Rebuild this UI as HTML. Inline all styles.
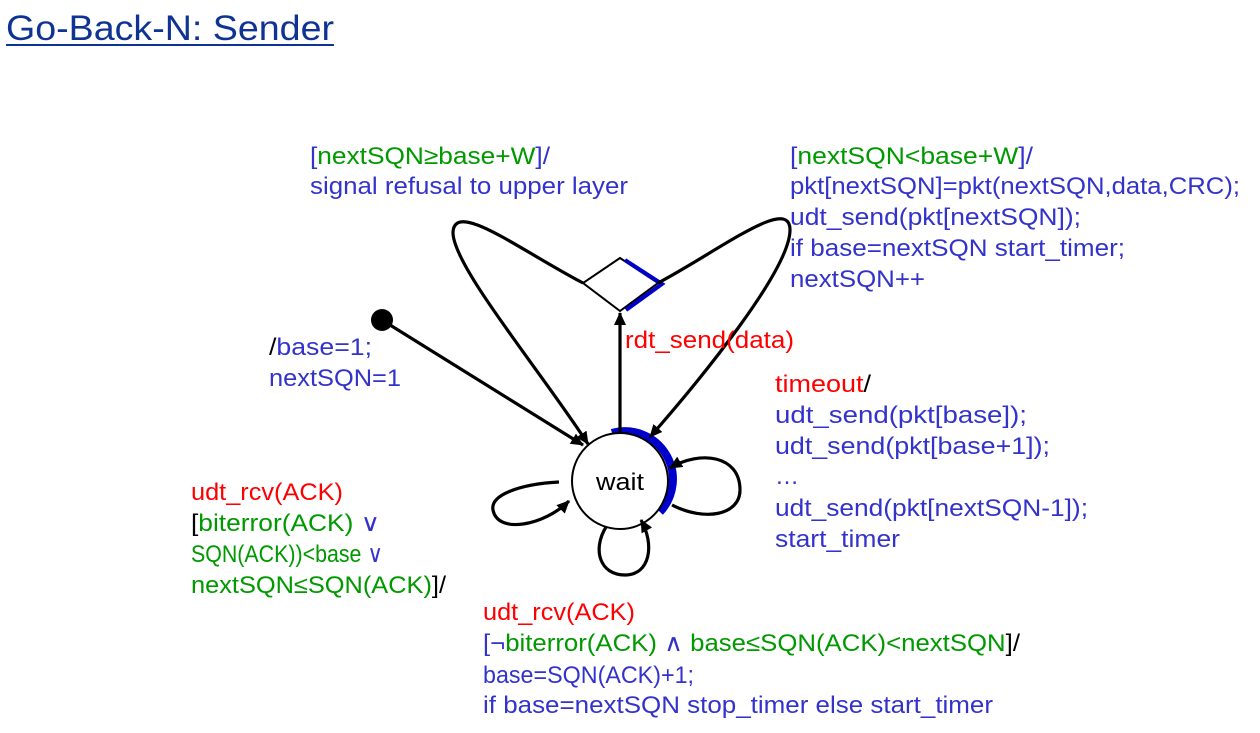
<!DOCTYPE html>
<html><head><meta charset="utf-8"><style>
html,body{margin:0;padding:0;background:#fff;width:1260px;height:733px;overflow:hidden}
svg{display:block}
text{font-family:"Liberation Sans",sans-serif;font-size:24px}
.b{fill:#3333cc}.g{fill:#009900}.r{fill:#ff0000}.k{fill:#000}
</style></head><body>
<svg width="1260" height="733" viewBox="0 0 1260 733">
<defs><marker id="a" markerWidth="14" markerHeight="14" refX="12" refY="6" orient="auto" markerUnits="userSpaceOnUse"><path d="M0,0 L13,6 L0,12 Z" fill="#000"/></marker></defs>
<text x="6" y="40" style="font-size:35px;fill:#0e3393" textLength="328" lengthAdjust="spacingAndGlyphs">Go-Back-N: Sender</text>
<rect x="6" y="44" width="328" height="2" fill="#0e3393"/>

<g fill="none" stroke="#000" stroke-width="3.2">
<path d="M620,258 L658,283 L620,311 L583,283 Z" fill="#fff" stroke-width="2"/>
<path d="M625,260 L662,284 L626,310" stroke="#0000cc" stroke-width="4"/>
<path d="M612,433 A48,48 0 0 1 660,512" stroke="#0000cc" stroke-width="8"/>
<circle cx="620" cy="481" r="48" fill="#fff" stroke-width="2"/>
<path d="M583,283 C520,250 455,200 453,232 C452,265 540,370 588,444" marker-end="url(#a)"/>
<path d="M658,283 C720,250 790,195 790,230 C790,270 700,380 650,437" marker-end="url(#a)"/>
<path d="M382,320 L583,445" marker-end="url(#a)"/>
<path d="M620,433 L620,313" marker-end="url(#a)"/>
<path d="M559,482 C520,484 490,495 493,510 C498,535 545,525 569,501" marker-end="url(#a)"/>
<path d="M672,505 C705,522 740,515 740,490 C740,455 700,450 670,468" marker-end="url(#a)"/>
<path d="M606,527 C592,550 600,575 625,575 C650,575 655,545 641,520" marker-end="url(#a)"/>
</g>
<circle cx="382" cy="320" r="11" fill="#000"/>
<text x="596" y="490" class="k" style="font-size:24px" textLength="48" lengthAdjust="spacingAndGlyphs">wait</text>

<text x="310" y="164" textLength="240" lengthAdjust="spacingAndGlyphs"><tspan class="b">[</tspan><tspan class="g">nextSQN≥base+W</tspan><tspan class="b">]/</tspan></text>
<text x="310" y="194" class="b" textLength="318" lengthAdjust="spacingAndGlyphs">signal refusal to upper layer</text>
<text x="790" y="164" textLength="243" lengthAdjust="spacingAndGlyphs"><tspan class="b">[</tspan><tspan class="g">nextSQN&lt;base+W</tspan><tspan class="b">]/</tspan></text>
<text x="790" y="194" class="b" textLength="450" lengthAdjust="spacingAndGlyphs">pkt[nextSQN]=pkt(nextSQN,data,CRC);</text>
<text x="790" y="225" class="b" textLength="291" lengthAdjust="spacingAndGlyphs">udt_send(pkt[nextSQN]);</text>
<text x="790" y="256" class="b" textLength="335" lengthAdjust="spacingAndGlyphs">if base=nextSQN start_timer;</text>
<text x="790" y="287" class="b" textLength="135" lengthAdjust="spacingAndGlyphs">nextSQN++</text>
<text x="269" y="355" class="b" textLength="103" lengthAdjust="spacingAndGlyphs"><tspan class="k">/</tspan>base=1;</text>
<text x="269" y="386" class="b" textLength="132" lengthAdjust="spacingAndGlyphs">nextSQN=1</text>
<text x="625" y="348" class="r" textLength="169" lengthAdjust="spacingAndGlyphs">rdt_send(data)</text>
<text x="775" y="392" textLength="96" lengthAdjust="spacingAndGlyphs"><tspan class="r">timeout</tspan><tspan class="k">/</tspan></text>
<text x="775" y="423" class="b" textLength="252" lengthAdjust="spacingAndGlyphs">udt_send(pkt[base]);</text>
<text x="775" y="454" class="b" textLength="275" lengthAdjust="spacingAndGlyphs">udt_send(pkt[base+1]);</text>
<text x="775" y="484" class="b">…</text>
<text x="775" y="516" class="b" textLength="313" lengthAdjust="spacingAndGlyphs">udt_send(pkt[nextSQN-1]);</text>
<text x="775" y="547" class="b" textLength="125" lengthAdjust="spacingAndGlyphs">start_timer</text>
<text x="191" y="500" class="r" textLength="152" lengthAdjust="spacingAndGlyphs">udt_rcv(ACK)</text>
<text x="191" y="531" textLength="189" lengthAdjust="spacingAndGlyphs"><tspan class="k">[</tspan><tspan class="g">biterror(ACK) </tspan><tspan class="b">∨</tspan></text>
<text x="191" y="562" textLength="192" lengthAdjust="spacingAndGlyphs"><tspan class="g">SQN(ACK))&lt;base </tspan><tspan class="b">∨</tspan></text>
<text x="191" y="593" textLength="255" lengthAdjust="spacingAndGlyphs"><tspan class="g">nextSQN≤SQN(ACK)</tspan><tspan class="k">]/</tspan></text>
<text x="483" y="620" class="r" textLength="152" lengthAdjust="spacingAndGlyphs">udt_rcv(ACK)</text>
<text x="483" y="651" textLength="537" lengthAdjust="spacingAndGlyphs"><tspan class="b">[</tspan><tspan class="b">¬</tspan><tspan class="g">biterror(ACK) </tspan><tspan class="b">∧</tspan><tspan class="g"> base≤SQN(ACK)&lt;nextSQN</tspan><tspan class="k">]/</tspan></text>
<text x="483" y="683" class="b" textLength="211" lengthAdjust="spacingAndGlyphs">base=SQN(ACK)+1;</text>
<text x="483" y="713" class="b" textLength="510" lengthAdjust="spacingAndGlyphs">if base=nextSQN stop_timer else start_timer</text>
</svg>
</body></html>
